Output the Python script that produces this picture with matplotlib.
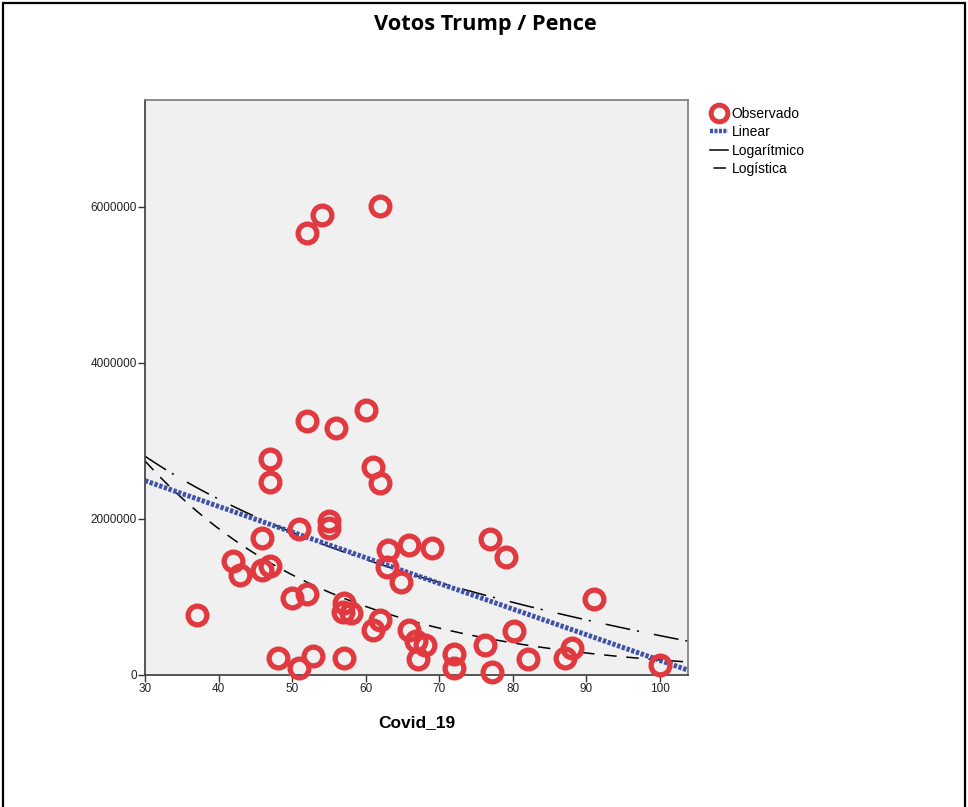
import numpy as np
import matplotlib.pyplot as plt
from matplotlib.lines import Line2D
from matplotlib.patches import Rectangle

plt.rcParams['font.family'] = ['Liberation Sans', 'DejaVu Sans']
plt.rcParams['lines.scale_dashes'] = False

# Covid_19 vs votos (observados)
covid = [52.0, 54.1, 61.9, 52.0, 56.0, 60.0, 47.0, 47.0, 61.0, 61.9,
         50.9, 55.0, 55.0, 45.9, 63.0, 65.9, 69.0, 76.9, 79.1, 42.0,
         42.9, 45.9, 47.0, 62.9, 64.8, 50.0, 52.0, 57.0, 56.9, 58.0,
         61.9, 61.0, 37.1, 65.9, 66.8, 68.1, 76.2, 80.2, 72.0, 67.1,
         48.1, 52.8, 57.0, 50.9, 72.0, 77.2, 82.1, 87.1, 88.0, 91.0,
         100.0]
votos = [5670000, 5900000, 6010000, 3260000, 3170000, 3400000, 2770000, 2470000, 2670000, 2460000,
         1870000, 1970000, 1890000, 1760000, 1600000, 1670000, 1630000, 1740000, 1510000, 1460000,
         1280000, 1350000, 1400000, 1380000, 1190000, 990000, 1040000, 920000, 810000, 790000,
         710000, 580000, 770000, 580000, 440000, 380000, 380000, 560000, 270000, 210000,
         220000, 240000, 220000, 90000, 90000, 40000, 210000, 220000, 350000, 970000,
         130000]

# coeficientes dos modelos ajustados
lin_b0, lin_b1 = 3477000, -32900          # y = b0 + b1*x
log_b0, log_b1 = 9300000, -1910000        # y = b0 + b1*ln(x)
lgs_b0, lgs_b1 = 1.167e-7, 1.0387         # y = 1 / (b0 * b1**x)

x_ticks = [30, 40, 50, 60, 70, 80, 90, 100]
y_ticks = [0, 2000000, 4000000, 6000000]
y_labels = ['0', '2000000', '4000000', '6000000']

fig = plt.figure(figsize=(9.68, 8.07), dpi=100)
fig.patch.set_facecolor('white')

# moldura da figura (aberta em baixo)
fig.add_artist(Rectangle((0.0036, -0.05), 0.9928, 1.0462, transform=fig.transFigure,
                         fill=False, edgecolor='black', linewidth=1.6, clip_on=False))

fig.text(0.501, 0.970, 'Votos Trump / Pence', ha='center', va='center',
         fontsize=15.7, fontweight='bold', family=['Open Sans', 'DejaVu Sans'])

ax = fig.add_axes([0.1498, 0.1636, 0.5609, 0.7125])
ax.set_facecolor('#f0f0f0')

xs = np.linspace(30, 103.8, 300)
ax.plot(xs, log_b0 + log_b1 * np.log(xs), color='black', lw=1.1,
        dashes=(18, 5, 1.5, 11), zorder=2)
ax.plot(xs, 1.0 / (lgs_b0 * lgs_b1 ** xs), color='black', lw=1.1,
        dashes=(9, 7), zorder=2)
ax.plot(xs, lin_b0 + lin_b1 * xs, color='#3f51a8', lw=3.6,
        dashes=(2.4, 1.2), zorder=3)

ax.plot(covid, votos, linestyle='none', marker='o', markersize=13.5,
        markerfacecolor='none', markeredgecolor='#e03a40', markeredgewidth=3.8,
        zorder=4, clip_on=False)

ax.set_xlim(30, 103.8)
ax.set_ylim(0, 7370000)
ax.set_xticks(x_ticks)
ax.set_yticks(y_ticks)
ax.set_yticklabels(y_labels)
ax.tick_params(axis='both', direction='out', length=5, width=1, color='#333333',
               labelsize=8.5, labelcolor='#222222', pad=1)
ax.set_xlabel('Covid_19', fontsize=12.5, fontweight='bold', labelpad=14)

for side in ['left', 'bottom']:
    ax.spines[side].set_color('#3a3a3a')
    ax.spines[side].set_linewidth(1.2)
for side in ['top', 'right']:
    ax.spines[side].set_color('#7a7a7a')
    ax.spines[side].set_linewidth(1.2)

handles = [
    Line2D([], [], linestyle='none', marker='o', markersize=12, markerfacecolor='none',
           markeredgecolor='#e03a40', markeredgewidth=3.6),
    Line2D([], [], color='#3f51a8', lw=3.2, dashes=(2.2, 1.0)),
    Line2D([], [], color='black', lw=1.1),
    Line2D([], [], color='black', lw=1.1, linestyle=(-2.5, (9, 20))),
]
fig.legend(handles, ['Observado', 'Linear', 'Logarítmico', 'Logística'],
           loc='upper left', bbox_to_anchor=(0.733, 0.868), frameon=False,
           fontsize=10, handlelength=1.3, handletextpad=0.3, labelspacing=0.33,
           borderaxespad=0, borderpad=0)

fig.savefig('out.png', dpi=100)
